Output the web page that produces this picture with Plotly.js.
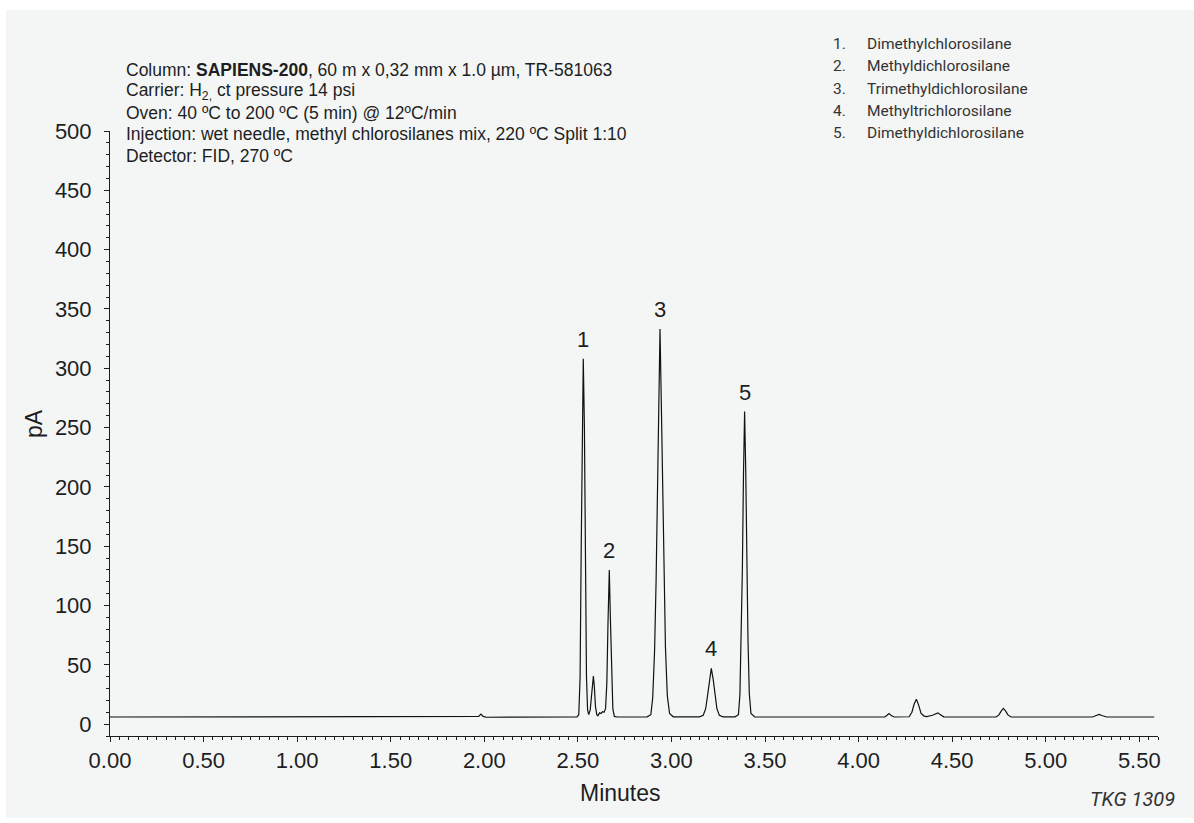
<!DOCTYPE html>
<html><head><meta charset="utf-8">
<script src="https://cdn.plot.ly/plotly-3.0.1.min.js"></script>
<style>
html,body{margin:0;padding:0;background:#ffffff;}
#chart{position:absolute;left:6px;top:10px;width:1188px;height:808px;}
</style></head><body><div id="chart"></div>
<script>
// ---- data ----
const time = [0.000,1.950,1.970,1.982,1.994,2.010,2.230,2.245,2.260,2.495,2.505,2.512,2.518,2.523,2.529,2.535,2.540,2.546,2.552,2.558,2.566,2.573,2.578,2.583,2.588,2.594,2.601,2.607,2.616,2.624,2.632,2.640,2.648,2.655,2.661,2.668,2.674,2.680,2.687,2.695,2.710,2.870,2.890,2.900,2.910,2.918,2.925,2.932,2.939,2.946,2.953,2.960,2.968,2.978,2.990,3.010,3.150,3.170,3.183,3.193,3.203,3.213,3.223,3.233,3.243,3.256,3.275,3.340,3.358,3.366,3.373,3.379,3.385,3.391,3.397,3.403,3.409,3.416,3.425,3.445,3.910,3.931,3.950,4.140,4.152,4.163,4.175,4.190,4.270,4.285,4.297,4.309,4.321,4.334,4.350,4.364,4.395,4.412,4.424,4.438,4.455,4.735,4.750,4.762,4.774,4.786,4.798,4.815,4.915,4.932,4.950,5.250,5.270,5.285,5.300,5.325,5.580];
const signal = [6,6,6.5,8.5,6.5,5.8,6,6.6,6,6.2,8,40,150,260,308,250,140,40,12,8,12,25,36,40.5,32,15,8,7,9.5,9,10.5,10,13,35,85,130,88,38,13,6.5,6,6.2,8,22,62,120,190,268,333,270,195,125,65,24,9,6.2,6.2,7.5,13,24,38,47,38,24,13,7.5,6.2,6.2,8,25,70,130,210,263.5,215,135,72,26,9,6,6,6.6,6,6,7.5,9,7.2,6,6.2,10,17,21,16,9,6.8,6.4,7.5,9,9.5,8,6.2,6,7.8,11,13.2,11,7.8,6,6,6.6,6,6,7.3,8.2,7.3,6,6];

const peakNumbers = ['1','2','3','4','5'];
const peakTimes   = [2.529, 2.668, 2.939, 3.213, 3.391];
const peakHeights = [308, 130, 333, 47, 263.5];

const compoundNames = ['Dimethylchlorosilane','Methyldichlorosilane','Trimethyldichlorosilane','Methyltrichlorosilane','Dimethyldichlorosilane'];
const infoLines = [
  'Column: <b>SAPIENS-200</b>, 60 m x 0,32 mm x 1.0 µm, TR-581063',
  'Carrier: H<sub>2,</sub> ct pressure 14 psi',
  'Oven: 40 ºC to 200 ºC (5 min) @ 12ºC/min',
  'Injection: wet needle, methyl chlorosilanes mix, 220 ºC Split 1:10',
  'Detector: FID, 270 ºC'
];
const xTitle = 'Minutes';
const yTitle = 'pA';
const stamp = 'TKG 1309';

// ---- layout helpers (page pixel -> paper) ----
const W = 1188, H = 808, OX = 6, OY = 10;
const M = {l:104, r:36, t:121, b:82};
const PW = W - M.l - M.r, PH = H - M.t - M.b;
const px = x => (x - OX - M.l) / PW;
const py = y => (H - M.b - (y - OY)) / PH;

const SANS = 'Liberation Sans, Arial, Helvetica, sans-serif';
const COND = 'Roboto, Liberation Sans, sans-serif';
const INK = '#1e1e1e';

const ann = [];
infoLines.forEach((t, i) => ann.push({
  text: t, xref:'paper', yref:'paper', x: px(124), y: py(70 + i*21.4),
  xanchor:'left', yanchor:'middle', showarrow:false,
  font:{family:SANS, size:17.5, color:INK}
}));
compoundNames.forEach((t, i) => {
  ann.push({text: (i+1) + '.', xref:'paper', yref:'paper', x: px(831), y: py(44 + i*22.3),
    xanchor:'left', yanchor:'middle', showarrow:false, font:{family:COND, size:15.5, color:'#333'}});
  ann.push({text: t, xref:'paper', yref:'paper', x: px(865), y: py(44 + i*22.3),
    xanchor:'left', yanchor:'middle', showarrow:false, font:{family:COND, size:15.5, color:'#333'}});
});
peakNumbers.forEach((t, i) => ann.push({
  text: t, xref:'x', yref:'y', x: peakTimes[i], y: peakHeights[i],
  xanchor:'center', yanchor:'bottom', yshift: 5, showarrow:false,
  font:{family:SANS, size:22, color:INK}
}));
ann.push({text: xTitle, xref:'paper', yref:'paper', x: px(620), y: py(793), xanchor:'center', yanchor:'middle',
  showarrow:false, font:{family:SANS, size:23, color:INK}});
ann.push({text: yTitle, xref:'paper', yref:'paper', x: px(34), y: py(424), xanchor:'center', yanchor:'middle',
  textangle:-90, showarrow:false, font:{family:SANS, size:23, color:INK}});
ann.push({text: '<i>' + stamp + '</i>', xref:'paper', yref:'paper', x: px(1177), y: py(799), xanchor:'right', yanchor:'middle',
  showarrow:false, font:{family:COND, size:20, color:'#333'}});

const trace = {x: time, y: signal, type:'scatter', mode:'lines',
  line:{color:'#111', width:1.2}, hoverinfo:'skip'};

const axisCommon = {showgrid:false, zeroline:false, showline:true, linecolor:INK, linewidth:1,
  ticks:'outside', ticklen:5, tickwidth:1, tickcolor:INK,
  tickfont:{family:SANS, size:22, color:INK}};

const layout = {
  width: W, height: H, margin: M,
  paper_bgcolor:'#f4f6f6', plot_bgcolor:'#f4f6f6',
  showlegend:false,
  xaxis: Object.assign({}, axisCommon, {range:[0,5.6], tick0:0, dtick:0.5, tickformat:'.2f',
    minor:{dtick:0.05, ticks:'outside', ticklen:3, tickcolor:INK, tickwidth:1, showgrid:false}}),
  yaxis: Object.assign({}, axisCommon, {range:[-10,500], tick0:0, dtick:50,
    ticklabelstandoff:8,
    minor:{dtick:10, ticks:'outside', ticklen:3, tickcolor:INK, tickwidth:1, showgrid:false}}),
  annotations: ann
};
Plotly.newPlot('chart', [trace], layout, {displayModeBar:false, staticPlot:true});
</script></body></html>
